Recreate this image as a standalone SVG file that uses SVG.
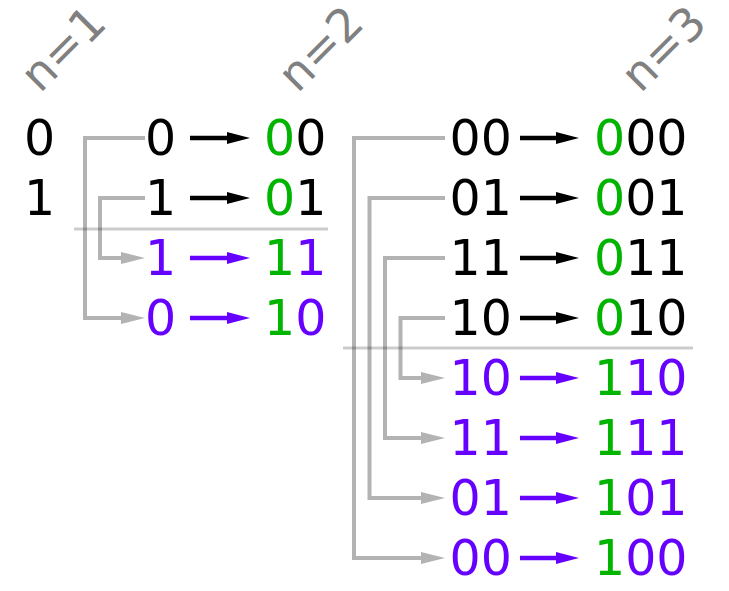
<svg xmlns="http://www.w3.org/2000/svg" width="729" height="591" viewBox="0 0 729 591">
<style>
text{font-family:"DejaVu Sans",sans-serif;font-size:49px}
.k{fill:#000}.g{fill:#00b400}.p{fill:#6600ff}
.lbl{fill:#808080;font-size:46px}
.con{fill:none;stroke:#b3b3b3;stroke-width:4}
.ak{stroke:#000;stroke-width:4.5}
.ap{stroke:#6600ff;stroke-width:4.5}
.sep{stroke:#000;stroke-opacity:0.2;stroke-width:3}
</style>
<defs>
<marker id="hg" markerUnits="userSpaceOnUse" orient="auto" refX="0" refY="0" markerWidth="30" markerHeight="16" viewBox="0 -8 30 16" overflow="visible"><path d="M0,-6L24,0L0,6z" fill="#b3b3b3"/></marker>
<marker id="hk" markerUnits="userSpaceOnUse" orient="auto" refX="0" refY="0" markerWidth="30" markerHeight="16" viewBox="0 -8 30 16" overflow="visible"><path d="M0,-6L23,0L0,6z" fill="#000"/></marker>
<marker id="hp" markerUnits="userSpaceOnUse" orient="auto" refX="0" refY="0" markerWidth="30" markerHeight="16" viewBox="0 -8 30 16" overflow="visible"><path d="M0,-6L23,0L0,6z" fill="#6600ff"/></marker>
</defs>
<g id="labels">
<text class="lbl" transform="translate(40,94) rotate(-45)">n=1</text>
<text class="lbl" transform="translate(297.5,94) rotate(-45)">n=2</text>
<text class="lbl" transform="translate(640.5,94) rotate(-45)">n=3</text>
</g>
<g id="connectors">
<path class="con" d="M145,138H85V318H121" marker-end="url(#hg)"/>
<path class="con" d="M145,198H100V258H121" marker-end="url(#hg)"/>
<path class="con" d="M445,138H354V558H421" marker-end="url(#hg)"/>
<path class="con" d="M445,198H369.5V498H421" marker-end="url(#hg)"/>
<path class="con" d="M445,258H385V438H421" marker-end="url(#hg)"/>
<path class="con" d="M445,318H400.5V378H421" marker-end="url(#hg)"/>
<line class="ak" x1="190" y1="138" x2="227" y2="138" marker-end="url(#hk)"/>
<line class="ak" x1="190" y1="198" x2="227" y2="198" marker-end="url(#hk)"/>
<line class="ap" x1="190" y1="258" x2="227" y2="258" marker-end="url(#hp)"/>
<line class="ap" x1="190" y1="318" x2="227" y2="318" marker-end="url(#hp)"/>
<line class="ak" x1="520" y1="138" x2="556" y2="138" marker-end="url(#hk)"/>
<line class="ak" x1="520" y1="198" x2="556" y2="198" marker-end="url(#hk)"/>
<line class="ak" x1="520" y1="258" x2="556" y2="258" marker-end="url(#hk)"/>
<line class="ak" x1="520" y1="318" x2="556" y2="318" marker-end="url(#hk)"/>
<line class="ap" x1="520" y1="378" x2="556" y2="378" marker-end="url(#hp)"/>
<line class="ap" x1="520" y1="438" x2="556" y2="438" marker-end="url(#hp)"/>
<line class="ap" x1="520" y1="498" x2="556" y2="498" marker-end="url(#hp)"/>
<line class="ap" x1="520" y1="558" x2="556" y2="558" marker-end="url(#hp)"/>
<line class="sep" x1="74" y1="229" x2="328" y2="229"/>
<line class="sep" x1="343" y1="348" x2="693" y2="348"/>
</g>
<g id="col1">
<text class="k" x="24" y="155">0</text>
<text class="k" x="24" y="215">1</text>
</g>
<g id="col2">
<text class="k" x="145" y="155">0</text>
<text class="k" x="145" y="215">1</text>
<text class="p" x="145" y="275">1</text>
<text class="p" x="145" y="335">0</text>
<text x="264" y="155"><tspan class="g">0</tspan><tspan class="k">0</tspan></text>
<text x="264" y="215"><tspan class="g">0</tspan><tspan class="k">1</tspan></text>
<text x="264" y="275"><tspan class="g">1</tspan><tspan class="p">1</tspan></text>
<text x="264" y="335"><tspan class="g">1</tspan><tspan class="p">0</tspan></text>
</g>
<g id="col3">
<text class="k" x="449.5" y="155">00</text>
<text class="k" x="449.5" y="215">01</text>
<text class="k" x="449.5" y="275">11</text>
<text class="k" x="449.5" y="335">10</text>
<text class="p" x="449.5" y="395">10</text>
<text class="p" x="449.5" y="455">11</text>
<text class="p" x="449.5" y="515">01</text>
<text class="p" x="449.5" y="575">00</text>
<text x="594" y="155"><tspan class="g">0</tspan><tspan class="k">00</tspan></text>
<text x="594" y="215"><tspan class="g">0</tspan><tspan class="k">01</tspan></text>
<text x="594" y="275"><tspan class="g">0</tspan><tspan class="k">11</tspan></text>
<text x="594" y="335"><tspan class="g">0</tspan><tspan class="k">10</tspan></text>
<text x="594" y="395"><tspan class="g">1</tspan><tspan class="p">10</tspan></text>
<text x="594" y="455"><tspan class="g">1</tspan><tspan class="p">11</tspan></text>
<text x="594" y="515"><tspan class="g">1</tspan><tspan class="p">01</tspan></text>
<text x="594" y="575"><tspan class="g">1</tspan><tspan class="p">00</tspan></text>
</g>
</svg>
